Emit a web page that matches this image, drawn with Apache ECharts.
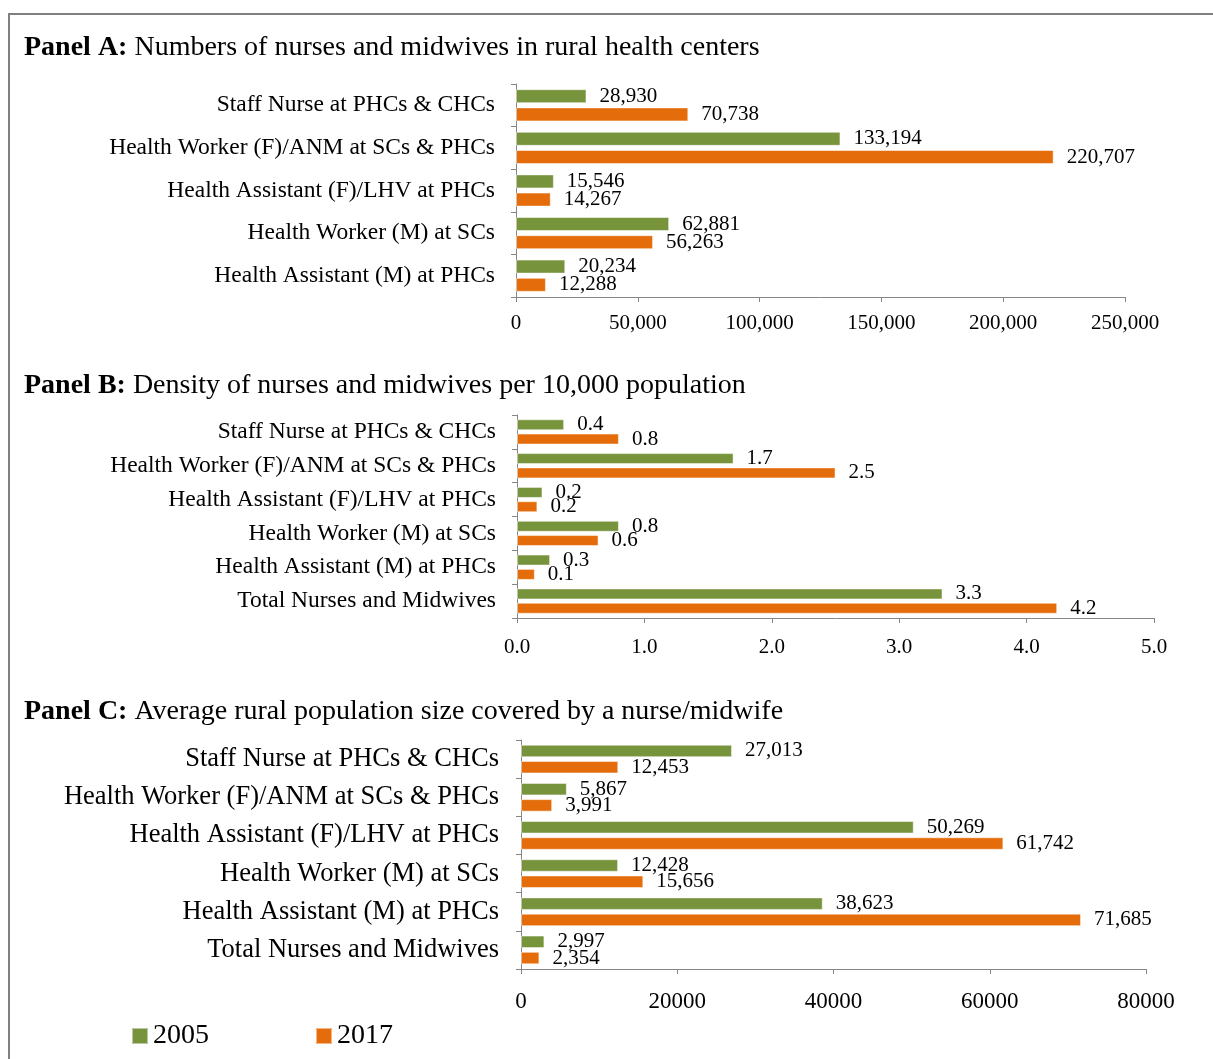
<!DOCTYPE html>
<html>
<head>
<meta charset="utf-8">
<script src="https://cdn.jsdelivr.net/npm/echarts@6/dist/echarts.min.js"></script>
<style>
html, body { margin: 0; padding: 0; background: #fff; }
#main { width: 1213px; height: 1059px; }
</style>
</head>
<body>
<div id="main"></div>
<script>
// categories
var catsA = ['Staff Nurse at PHCs & CHCs', 'Health Worker (F)/ANM at SCs & PHCs', 'Health Assistant (F)/LHV at PHCs', 'Health Worker (M) at SCs', 'Health Assistant (M) at PHCs'];
var catsB = catsA.concat(['Total Nurses and Midwives']);
var catsC = catsB;

// Panel A: numbers
var numbers2005 = [28930, 133194, 15546, 62881, 20234];
var numbers2017 = [70738, 220707, 14267, 56263, 12288];
// Panel B: density per 10,000
var density2005 = [0.37, 1.70, 0.20, 0.80, 0.26, 3.34];
var density2017 = [0.80, 2.50, 0.16, 0.64, 0.14, 4.24];
// Panel C: population covered
var coverage2005 = [27013, 5867, 50269, 12428, 38623, 2997];
var coverage2017 = [12453, 3991, 61742, 15656, 71685, 2354];

var FONT = 'Liberation Serif';
var GREEN = '#77933c', ORANGE = '#e46c0a', AXIS = '#868686';

var myChart = echarts.init(document.getElementById('main'));

function comma(p) { return p.value.toLocaleString('en-US'); }
function oneDec(p) { return p.value.toFixed(1); }

function xAxisCfg(grid, max, interval, fmt, size, margin) {
    return {
        type: 'value', gridIndex: grid, min: 0, max: max, interval: interval,
        splitLine: {show: false},
        axisLine: {show: true, lineStyle: {color: AXIS}},
        axisTick: {show: true, length: 5, lineStyle: {color: AXIS}},
        axisLabel: {formatter: fmt, color: '#000', fontFamily: FONT, fontSize: size, margin: margin}
    };
}

function yAxisCfg(grid, cats, size, margin) {
    return {
        type: 'category', gridIndex: grid, data: cats, inverse: true,
        axisLine: {show: true, lineStyle: {color: AXIS}},
        axisTick: {show: true, length: 5, lineStyle: {color: AXIS}},
        axisLabel: {color: '#000', fontFamily: FONT, fontSize: size, margin: margin}
    };
}

function barSeries(name, color, idx, data, width, fmt) {
    return {
        name: name, type: 'bar', xAxisIndex: idx, yAxisIndex: idx, data: data,
        barWidth: width, barGap: '30%',
        itemStyle: {color: color, borderColor: 'rgba(255,255,255,0.5)', borderWidth: 1},
        label: {show: true, position: 'right', distance: 13, formatter: fmt,
            color: '#000', fontFamily: FONT, fontSize: 21}
    };
}

function panelTitle(letter, text, top) {
    return {
        left: 19, top: top,
        text: '{b|Panel ' + letter + ':} ' + text,
        textStyle: {
            fontFamily: FONT, fontSize: 28, fontWeight: 'normal', color: '#000',
            rich: {b: {fontFamily: FONT, fontSize: 28, fontWeight: 'bold', color: '#000'}}
        }
    };
}

var option = {
    animation: false,
    backgroundColor: '#fff',
    title: [
        panelTitle('A', 'Numbers of nurses and midwives in rural health centers', 29),
        panelTitle('B', 'Density of nurses and midwives per 10,000 population', 367),
        panelTitle('C', 'Average rural population size covered by a nurse/midwife', 693)
    ],
    legend: {
        data: ['2005', '2017'], left: 126, top: 1017, icon: 'rect',
        itemWidth: 16, itemHeight: 16, itemGap: 106,
        textStyle: {fontFamily: FONT, fontSize: 28, color: '#000'}
    },
    grid: [
        {left: 516, right: 88, top: 84, height: 213},
        {left: 517, right: 59, top: 415, height: 203},
        {left: 521, right: 67, top: 740, height: 229}
    ],
    xAxis: [
        xAxisCfg(0, 250000, 50000, function (v) { return v.toLocaleString('en-US'); }, 21, 16),
        xAxisCfg(1, 5, 1, function (v) { return v.toFixed(1); }, 21, 19),
        xAxisCfg(2, 80000, 20000, function (v) { return String(v); }, 23, 21)
    ],
    yAxis: [
        yAxisCfg(0, catsA, 23.5, 21),
        yAxisCfg(1, catsB, 23.5, 21),
        yAxisCfg(2, catsC, 26.5, 22)
    ],
    series: [
        barSeries('2005', GREEN, 0, numbers2005, 14, comma),
        barSeries('2017', ORANGE, 0, numbers2017, 14, comma),
        barSeries('2005', GREEN, 1, density2005, 11, oneDec),
        barSeries('2017', ORANGE, 1, density2017, 11, oneDec),
        barSeries('2005', GREEN, 2, coverage2005, 12.5, comma),
        barSeries('2017', ORANGE, 2, coverage2017, 12.5, comma)
    ],
    graphic: [{
        type: 'rect', silent: true,
        shape: {x: 9, y: 14, width: 1300, height: 1200},
        style: {fill: 'none', stroke: '#808080', lineWidth: 2}
    }]
};
myChart.setOption(option);

window.addEventListener('resize', function () {
    myChart.resize();
});
</script>
</body>
</html>
